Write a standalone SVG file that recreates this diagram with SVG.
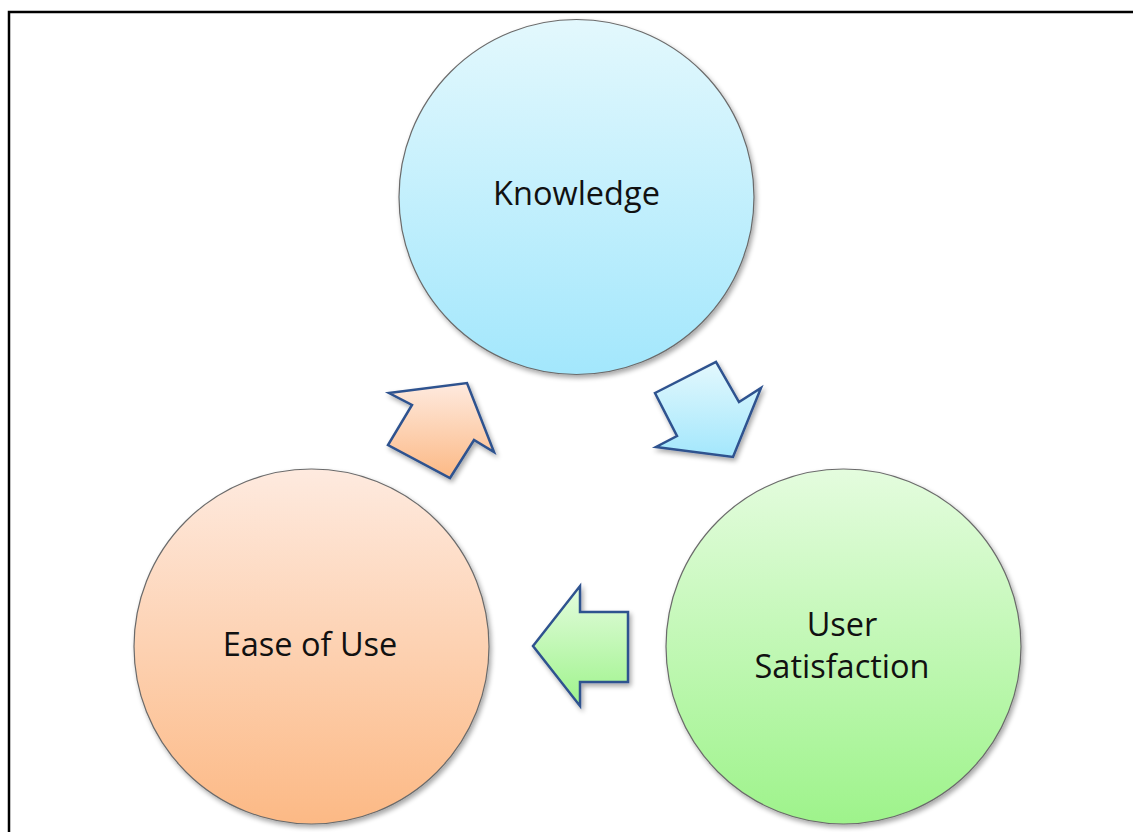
<svg xmlns="http://www.w3.org/2000/svg" width="1133" height="832" viewBox="0 0 1133 832">
<style>
.node circle{stroke:#6b6b6b;stroke-width:1.2}
.lbl{font-family:"Open Sans","Liberation Sans",sans-serif;font-size:32.5px;fill:#111;text-anchor:middle}
.arr{stroke:#2f528f;stroke-width:2.5;stroke-linejoin:miter}
</style>
<defs>
<linearGradient id="gBlue" x1="0" y1="0" x2="0" y2="1"><stop offset="0" stop-color="#e3f8fd"/><stop offset="1" stop-color="#a3e7fc"/></linearGradient>
<linearGradient id="gOrange" x1="0" y1="0" x2="0" y2="1"><stop offset="0" stop-color="#feeadf"/><stop offset="1" stop-color="#fcb985"/></linearGradient>
<linearGradient id="gGreen" x1="0" y1="0" x2="0" y2="1"><stop offset="0" stop-color="#e4fcde"/><stop offset="1" stop-color="#9ef38b"/></linearGradient>
<filter id="sh" x="-10%" y="-10%" width="130%" height="130%"><feGaussianBlur in="SourceAlpha" stdDeviation="2.5"/><feOffset dx="2" dy="3"/><feComponentTransfer><feFuncA type="linear" slope="0.35"/></feComponentTransfer><feMerge><feMergeNode/><feMergeNode in="SourceGraphic"/></feMerge></filter>
</defs>
<rect x="9" y="12" width="1140" height="840" fill="none" stroke="#000" stroke-width="2.5"/>
<g id="connectors">
<polygon class="arr" filter="url(#sh)" fill="url(#gOrange)" points="389,393 467,383 494,452 474,440 450,478 388,445 412,405"/>
<polygon class="arr" filter="url(#sh)" fill="url(#gBlue)" points="655,393 716,362 739,402 761,388 733,457 656,447 677,436"/>
<polygon class="arr" filter="url(#sh)" fill="url(#gGreen)" points="533,646 580,586 580,612 628,612 628,682 580,682 580,706"/>
</g>
<g id="knowledge" class="node">
<circle cx="576.5" cy="197" r="177.5" fill="url(#gBlue)" filter="url(#sh)"/>
<text class="lbl" x="576.5" y="205">Knowledge</text>
</g>
<g id="ease" class="node">
<circle cx="311.5" cy="646.5" r="177.5" fill="url(#gOrange)" filter="url(#sh)"/>
<text class="lbl" x="310" y="656">Ease of Use</text>
</g>
<g id="satisfaction" class="node">
<circle cx="843.5" cy="646.5" r="177.5" fill="url(#gGreen)" filter="url(#sh)"/>
<text class="lbl" x="842" y="636">User</text>
<text class="lbl" x="842" y="678">Satisfaction</text>
</g>
</svg>
